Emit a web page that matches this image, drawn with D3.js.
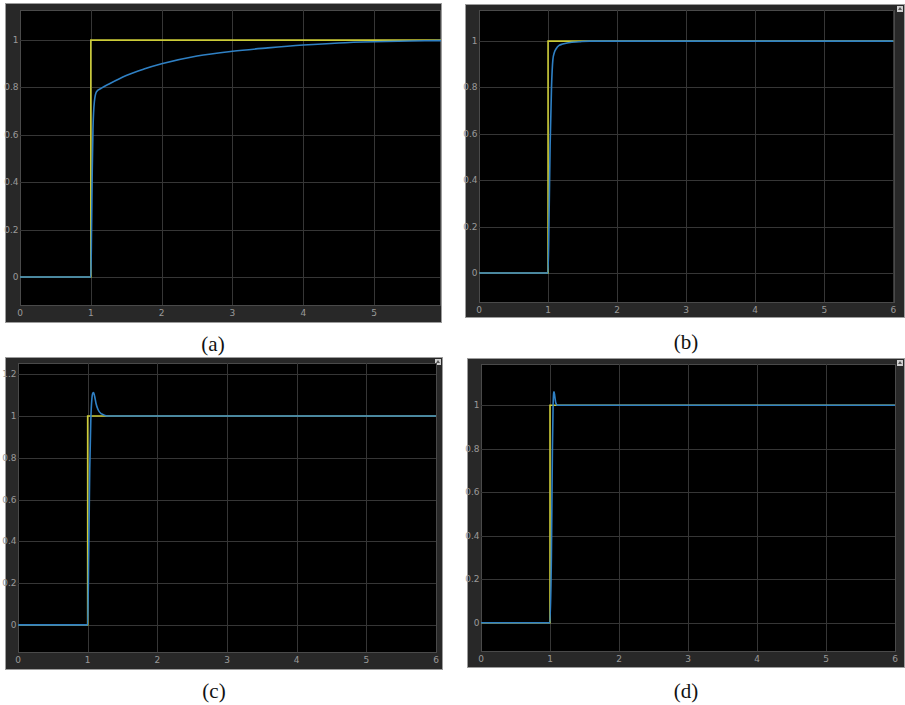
<!DOCTYPE html>
<head>
    <meta charset="UTF-8" />
    <style>
        body { margin: 0; padding: 0; background: #fff; }
        .frame { fill: #282828; stroke: #9c9c9c; stroke-width: 1px; }
        .plotbg { fill: #000; stroke: #4a4a4a; stroke-width: 1px; }
        .grid line { stroke: #363636; stroke-width: 1px; }
        .tick-label { fill: #9a9a9a; font: 9px "DejaVu Sans", sans-serif; }
        .caption { fill: #111; font: 21px "Liberation Serif", serif; }
        .step { fill: none; stroke: #cccc38; stroke-width: 1.6px; }
        .resp { fill: none; stroke: #2f80c4; stroke-width: 1.6px; }
    </style>
    <title>Step responses</title>
</head>

<svg width="905" height="705"></svg>
<script src="https://d3js.org/d3.v7.min.js"></script>

<script>
    // reference step input (same in all four scopes)
    const stepT = [0, 1, 1, 6];
    const stepV = [0, 0, 1, 1];

    // (a) slow response
    const tA = [0, 1, 1.01, 1.02, 1.03, 1.05, 1.08, 1.15, 1.27, 1.5, 1.75, 2, 2.5, 3, 3.5, 4, 4.5, 5, 5.5, 6];
    const yA = [0, 0, 0.2, 0.45, 0.62, 0.74, 0.782, 0.797, 0.817, 0.851, 0.878, 0.9, 0.933, 0.953, 0.967, 0.979, 0.988, 0.993, 0.996, 0.998];

    // (b) fast, no overshoot
    const tB = [0, 1, 1.015, 1.03, 1.05, 1.07, 1.09, 1.12, 1.16, 1.21, 1.3, 1.45, 1.6, 2, 6];
    const yB = [0, 0, 0.25, 0.55, 0.8, 0.92, 0.95, 0.968, 0.981, 0.987, 0.993, 0.997, 1, 1, 1];

    // (c) overshoot ~11%
    const tC = [0, 1, 1.015, 1.03, 1.045, 1.06, 1.075, 1.085, 1.1, 1.12, 1.15, 1.2, 1.25, 1.3, 6];
    const yC = [0, 0, 0.35, 0.75, 0.98, 1.08, 1.11, 1.112, 1.095, 1.06, 1.03, 1.01, 1.003, 1, 1];

    // (d) overshoot ~6%
    const tD = [0, 1, 1.02, 1.035, 1.045, 1.055, 1.06, 1.07, 1.085, 1.11, 1.2, 6];
    const yD = [0, 0, 0.3, 0.8, 1.0, 1.06, 1.062, 1.04, 1.01, 1.0, 1, 1];

    const xTicks = [0, 1, 2, 3, 4, 5, 6];
    const yTicksA = [0, 0.2, 0.4, 0.6, 0.8, 1];
    const yTicksC = [0, 0.2, 0.4, 0.6, 0.8, 1, 1.2];
    const captions = ["(a)", "(b)", "(c)", "(d)"];

    const svg = d3.select("svg");

    // layout of each scope window (frame box, plot box, axis ranges)
    const panels = [
        { frame: [5, 3, 437, 320], plot: [20, 10, 420, 295], xmax: 5.93, ymin: -0.118, ymax: 1.127,
          t: tA, y: yA, yTicks: yTicksA, side: false, cap: [213, 351] },
        { frame: [465, 4, 440, 314], plot: [479, 10, 415, 292], xmax: 6.01, ymin: -0.125, ymax: 1.134,
          t: tB, y: yB, yTicks: yTicksA, side: true, cap: [686, 349] },
        { frame: [5, 357, 438, 313], plot: [18, 363, 418, 289], xmax: 6, ymin: -0.13, ymax: 1.254,
          t: tC, y: yC, yTicks: yTicksC, side: true, cap: [214, 698] },
        { frame: [467, 358, 438, 310], plot: [481, 364, 414, 287], xmax: 6, ymin: -0.13, ymax: 1.19,
          t: tD, y: yD, yTicks: yTicksA, side: true, cap: [686, 698] }
    ];

    panels.forEach((p, i) => {
        const [fx, fy, fw, fh] = p.frame;
        const [px, py, pw, ph] = p.plot;
        const g = svg.append("g");

        g.append("rect").attr("class", "frame")
            .attr("x", fx + 0.5).attr("y", fy + 0.5).attr("width", fw - 1).attr("height", fh - 1);

        // little scope button column on the right
        if (p.side) {
            g.append("rect").attr("x", fx + fw - 8).attr("y", fy + 2).attr("width", 6).attr("height", 6)
                .attr("fill", "#cfcfcf");
            g.append("path").attr("d", `M${fx + fw - 7},${fy + 6} l2,-3 l2,3 z`).attr("fill", "#555");
        }

        g.append("rect").attr("class", "plotbg")
            .attr("x", px + 0.5).attr("y", py + 0.5).attr("width", pw).attr("height", ph);

        const x = d3.scaleLinear().domain([0, p.xmax]).range([px, px + pw]);
        const y = d3.scaleLinear().domain([p.ymin, p.ymax]).range([py + ph, py]);

        const grid = g.append("g").attr("class", "grid");
        grid.selectAll(".gx").data(xTicks.filter(d => d > 0 && d < p.xmax)).enter().append("line")
            .attr("x1", d => Math.round(x(d)) + 0.5).attr("x2", d => Math.round(x(d)) + 0.5)
            .attr("y1", py).attr("y2", py + ph);
        grid.selectAll(".gy").data(p.yTicks).enter().append("line")
            .attr("y1", d => Math.round(y(d)) + 0.5).attr("y2", d => Math.round(y(d)) + 0.5)
            .attr("x1", px).attr("x2", px + pw);

        // tick labels
        g.selectAll(".xl").data(xTicks.filter(d => d <= p.xmax)).enter().append("text")
            .attr("class", "tick-label")
            .attr("x", d => x(d)).attr("y", py + ph + 11)
            .attr("text-anchor", "middle")
            .text(d => d);
        g.selectAll(".yl").data(p.yTicks).enter().append("text")
            .attr("class", "tick-label")
            .attr("x", px - 1.5).attr("y", d => y(d) + 3)
            .attr("text-anchor", "end")
            .text(d3.format("~g"));

        const clipId = "clip" + i;
        g.append("clipPath").attr("id", clipId).append("rect")
            .attr("x", px).attr("y", py).attr("width", pw + 1).attr("height", ph);

        const line = d3.line().x(d => x(d[0])).y(d => y(d[1]));
        const smooth = d3.line().x(d => x(d[0])).y(d => y(d[1])).curve(d3.curveMonotoneX);

        const lines = g.append("g").attr("clip-path", `url(#${clipId})`);
        lines.append("path").attr("class", "step")
            .attr("d", line(d3.zip(stepT, stepV)));
        lines.append("path").attr("class", "resp")
            .attr("d", smooth(d3.zip(p.t, p.y)));

        svg.append("text").attr("class", "caption")
            .attr("x", p.cap[0]).attr("y", p.cap[1])
            .attr("text-anchor", "middle")
            .text(captions[i]);
    });
</script>
